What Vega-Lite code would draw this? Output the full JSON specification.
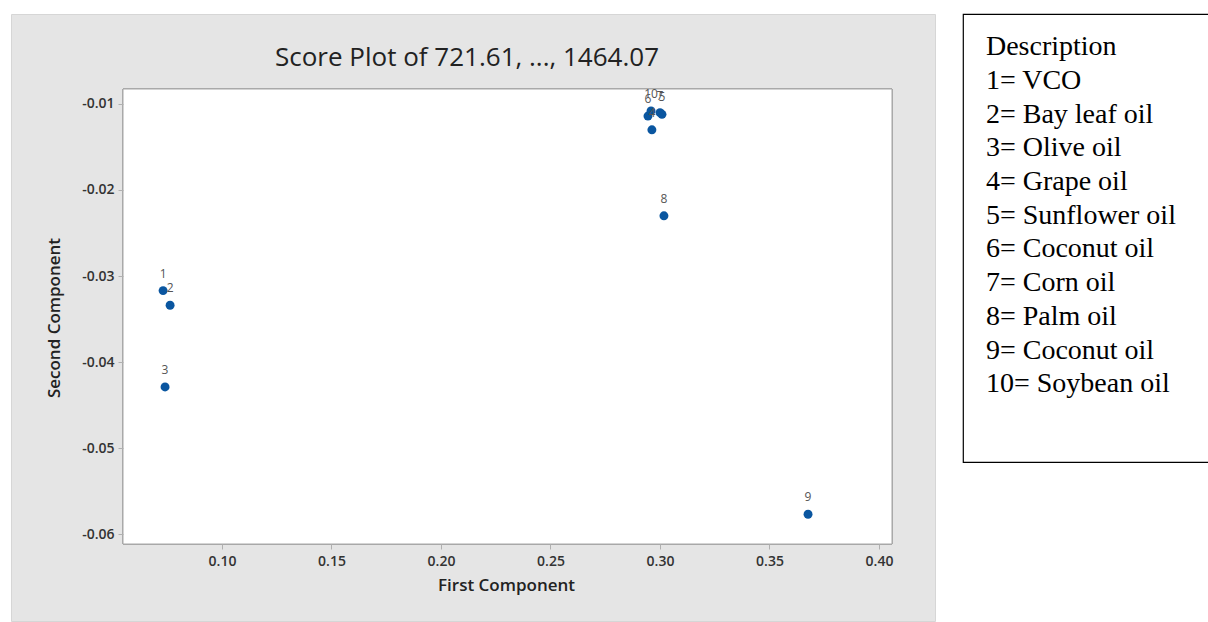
{
  "$schema": "https://vega.github.io/schema/vega-lite/v6.json",
  "background": "white",
  "padding": {"left": 10, "top": 13, "right": 0, "bottom": 0},
  "spacing": 26,
  "config": {"font": "Open Sans"},
  "hconcat": [
    {
      "width": 924,
      "height": 607,
      "view": {"fill": "#e5e5e5", "stroke": "#d6d6d6"},
      "title": {
        "text": "Score Plot of 721.61, ..., 1464.07",
        "font": "Open Sans",
        "fontSize": 26,
        "fontWeight": "normal",
        "color": "#222222",
        "anchor": "middle",
        "baseline": "alphabetic",
        "offset": -78,
        "dx": -6
      },
      "data": {
        "values": [
          {"id": "1", "pc1": 0.0731, "pc2": -0.0317},
          {"id": "2", "pc1": 0.0763, "pc2": -0.0334},
          {"id": "3", "pc1": 0.0740, "pc2": -0.0429},
          {"id": "4", "pc1": 0.2963, "pc2": -0.0130},
          {"id": "5", "pc1": 0.3009, "pc2": -0.0112},
          {"id": "6", "pc1": 0.2945, "pc2": -0.0114},
          {"id": "7", "pc1": 0.3000, "pc2": -0.0110},
          {"id": "8", "pc1": 0.3018, "pc2": -0.0230},
          {"id": "9", "pc1": 0.3676, "pc2": -0.0577},
          {"id": "10", "pc1": 0.2959, "pc2": -0.0108}
        ]
      },
      "layer": [
        {
          "mark": {"type": "rect", "fill": "white", "stroke": "#a8a8a8", "strokeWidth": 1},
          "encoding": {
            "x": {"datum": 0.054795, "type": "quantitative"},
            "x2": {"datum": 0.405936},
            "y": {"datum": -0.061163, "type": "quantitative"},
            "y2": {"datum": -0.008256}
          }
        },
        {
          "mark": {"type": "circle", "size": 80, "opacity": 1, "color": "#0a56a0"},
          "encoding": {
            "x": {
              "field": "pc1",
              "type": "quantitative",
              "scale": {"domain": [0.003653, 0.425571], "nice": false, "zero": false},
              "axis": {
                "values": [0.1, 0.15, 0.2, 0.25, 0.3, 0.35, 0.4],
                "labelExpr": "replace(format(datum.value, '.2f'), '\u2212', '-')",
                "offset": -77,
                "domain": false,
                "grid": false,
                "tickSize": 5,
                "tickColor": "#b0b0b0",
                "labelFont": "Open Sans",
                "labelFontSize": 14,
                "labelFontWeight": 600,
                "labelColor": "#333333",
                "labelPadding": 5,
                "labelFlush": false,
                "title": "First Component",
                "titleFont": "Open Sans",
                "titleFontSize": 17,
                "titleFontWeight": 600,
                "titleColor": "#222222",
                "titlePadding": 9,
                "titleX": 495,
                "zindex": 1
              }
            },
            "y": {
              "field": "pc2",
              "type": "quantitative",
              "scale": {"domain": [-0.070116, 0.000465], "nice": false, "zero": false},
              "axis": {
                "values": [-0.06, -0.05, -0.04, -0.03, -0.02, -0.01],
                "labelExpr": "replace(format(datum.value, '.2f'), '\u2212', '-')",
                "offset": -112,
                "domain": false,
                "grid": false,
                "tickSize": 5,
                "tickColor": "#b0b0b0",
                "labelFont": "Open Sans",
                "labelFontSize": 14,
                "labelFontWeight": 600,
                "labelColor": "#333333",
                "labelPadding": 4,
                "labelFlush": false,
                "title": "Second Component",
                "titleFont": "Open Sans",
                "titleFontSize": 17,
                "titleFontWeight": 600,
                "titleColor": "#222222",
                "titlePadding": 18,
                "zindex": 1
              }
            }
          }
        },
        {
          "mark": {"type": "text", "dy": -17, "fontSize": 12, "font": "Open Sans", "color": "#555555"},
          "encoding": {
            "x": {"field": "pc1", "type": "quantitative"},
            "y": {"field": "pc2", "type": "quantitative"},
            "text": {"field": "id"}
          }
        }
      ]
    },
    {
      "width": 252,
      "height": 448,
      "view": {"fill": "white", "stroke": "black", "strokeWidth": 1.2},
      "data": {
        "values": [
          {"line": 0, "entry": "Description"},
          {"line": 1, "entry": "1= VCO"},
          {"line": 2, "entry": "2= Bay leaf oil"},
          {"line": 3, "entry": "3= Olive oil"},
          {"line": 4, "entry": "4= Grape oil"},
          {"line": 5, "entry": "5= Sunflower oil"},
          {"line": 6, "entry": "6= Coconut oil"},
          {"line": 7, "entry": "7= Corn oil"},
          {"line": 8, "entry": "8= Palm oil"},
          {"line": 9, "entry": "9= Coconut oil"},
          {"line": 10, "entry": "10= Soybean oil"}
        ]
      },
      "mark": {"type": "text", "align": "left", "baseline": "middle", "font": "Liberation Serif", "fontSize": 28, "color": "black"},
      "encoding": {
        "x": {"datum": 0, "type": "quantitative", "scale": {"domain": [-0.1, 1]}, "axis": null},
        "y": {"field": "line", "type": "quantitative", "scale": {"domain": [-0.98, 12.3], "reverse": true}, "axis": null},
        "text": {"field": "entry"}
      }
    }
  ]
}
